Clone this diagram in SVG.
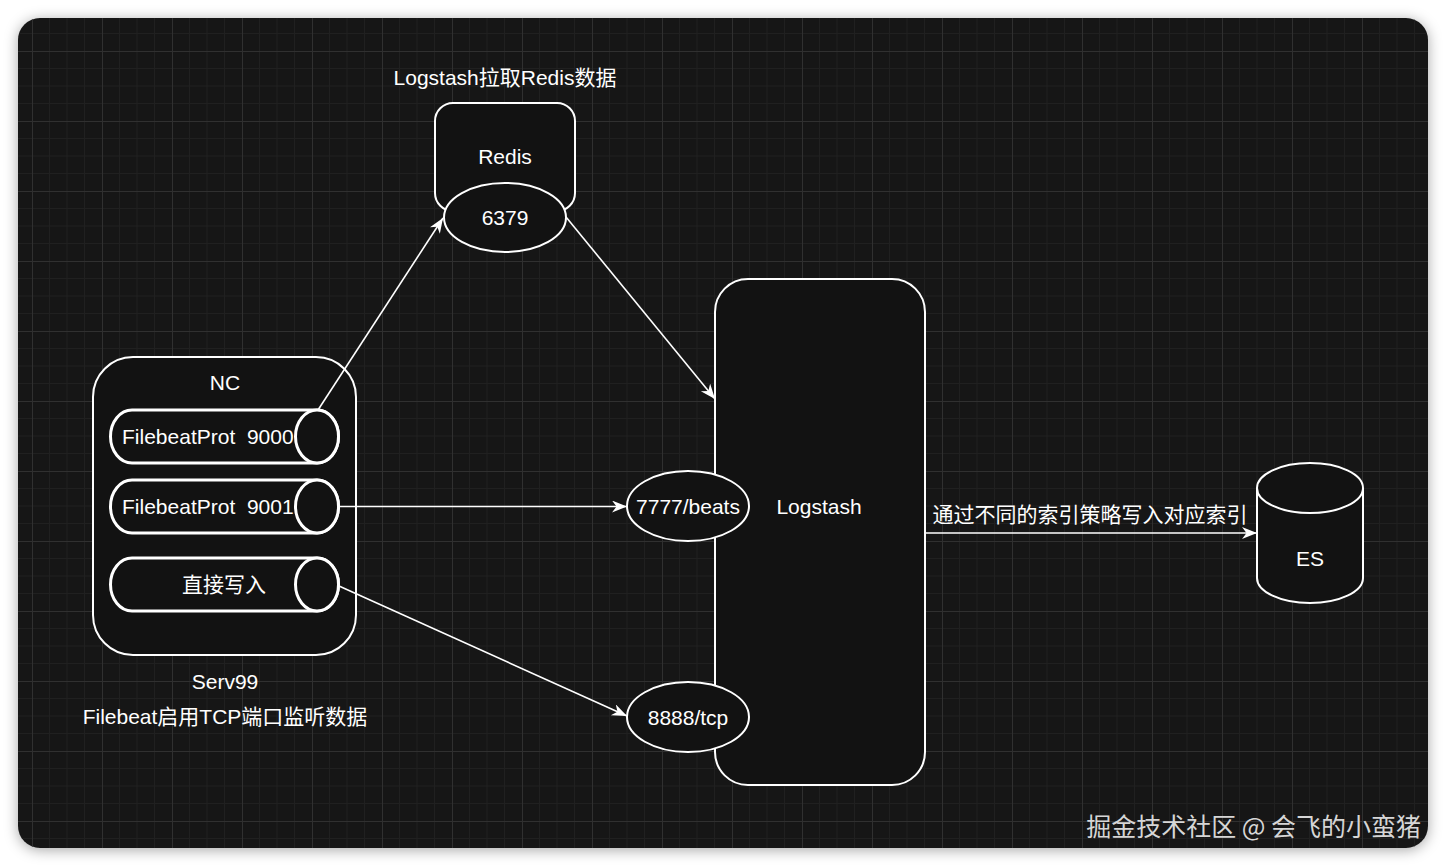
<svg xmlns="http://www.w3.org/2000/svg" width="1446" height="866" viewBox="0 0 1446 866">
<defs>
  <filter id="sh" x="-5%" y="-5%" width="110%" height="110%">
    <feDropShadow dx="0" dy="2" stdDeviation="7" flood-color="#000" flood-opacity="0.35"/>
  </filter>
  <pattern id="grid" x="32" y="51" width="70" height="70" patternUnits="userSpaceOnUse">
    <path d="M17.5,0 V70 M35,0 V70 M52.5,0 V70 M0,17.5 H70 M0,35 H70 M0,52.5 H70" stroke="#202020" stroke-width="1" fill="none"/>
    <path d="M0.5,0 V70 M0,0.5 H70" stroke="#303030" stroke-width="1" fill="none"/>
  </pattern>
  <marker id="arr" markerUnits="userSpaceOnUse" markerWidth="18" markerHeight="14" refX="15" refY="6" orient="auto">
    <path d="M0,0 L15,6 L0,12 L4.5,6 Z" fill="#ffffff"/>
  </marker>
  <clipPath id="frameClip"><rect x="18" y="18" width="1410" height="830" rx="22"/></clipPath>
</defs>
<style>
  .n { fill: #121212; stroke: #ffffff; stroke-width: 2; }
  .cyl { fill: #121212; stroke: #ffffff; stroke-width: 3; }
  .t { font-family: "Liberation Sans", Arial, "Noto Sans CJK SC", sans-serif; fill: #ffffff; font-size: 21px; }
  .c { text-anchor: middle; }
  .e { fill: none; stroke: #ffffff; stroke-width: 1.6; marker-end: url(#arr); }
</style>
<rect width="1446" height="866" fill="#ffffff"/>
<rect x="18" y="18" width="1410" height="830" rx="22" fill="#151515" filter="url(#sh)"/>
<rect x="18" y="18" width="1410" height="830" fill="url(#grid)" clip-path="url(#frameClip)"/>

<g id="nc">
  <rect class="n" x="93" y="357" width="263" height="298" rx="40"/>
  <text class="t c" x="225" y="390">NC</text>
</g>
<g id="cyl9000">
  <path class="cyl" d="M132,410 L317,410 A21.5,26.5 0 0 1 317,463 L132,463 A21.5,26.5 0 0 1 132,410 Z"/>
  <ellipse class="cyl" cx="317" cy="436.5" rx="21.5" ry="26.5"/>
  <text class="t" x="122" y="444" xml:space="preserve">FilebeatProt  9000</text>
</g>
<g id="cyl9001">
  <path class="cyl" d="M132,480 L317,480 A21.5,26.5 0 0 1 317,533 L132,533 A21.5,26.5 0 0 1 132,480 Z"/>
  <ellipse class="cyl" cx="317" cy="506.5" rx="21.5" ry="26.5"/>
  <text class="t" x="122" y="514" xml:space="preserve">FilebeatProt  9001</text>
</g>
<g id="cylDirect">
  <path class="cyl" d="M132,558 L317,558 A21.5,26.5 0 0 1 317,611 L132,611 A21.5,26.5 0 0 1 132,558 Z"/>
  <ellipse class="cyl" cx="317" cy="584.5" rx="21.5" ry="26.5"/>
  <text class="t c" x="224" y="592">直接写入</text>
</g>
<g id="serv99">
  <text class="t c" x="225" y="689">Serv99</text>
  <text class="t c" x="225" y="724">Filebeat启用TCP端口监听数据</text>
</g>

<g id="redis">
  <text class="t c" x="505" y="85">Logstash拉取Redis数据</text>
  <rect class="n" x="435" y="103" width="140" height="108" rx="18"/>
  <text class="t c" x="505" y="164">Redis</text>
</g>
<g id="port6379">
  <ellipse class="n" cx="505" cy="217.5" rx="61" ry="34.5"/>
  <text class="t c" x="505" y="225">6379</text>
</g>

<g id="logstash">
  <rect class="n" x="715" y="279" width="210" height="506" rx="33"/>
  <text class="t c" x="819" y="514">Logstash</text>
</g>
<g id="port7777">
  <ellipse class="n" cx="688" cy="506" rx="61" ry="35"/>
  <text class="t c" x="688" y="514">7777/beats</text>
</g>
<g id="port8888">
  <ellipse class="n" cx="688" cy="717" rx="61" ry="35"/>
  <text class="t c" x="688" y="725">8888/tcp</text>
</g>

<g id="es">
  <path class="n" d="M1257,488 A53,25 0 0 1 1363,488 L1363,578 A53,25 0 0 1 1257,578 Z"/>
  <path class="n" d="M1257,488 A53,25 0 0 0 1363,488" style="fill:none"/>
  <text class="t c" x="1310" y="566">ES</text>
</g>

<g id="connectors">
  <line class="e" x1="318" y1="410" x2="443" y2="218"/>
  <line class="e" x1="566" y1="217" x2="715" y2="399"/>
  <line class="e" x1="339" y1="506.5" x2="627" y2="506.5"/>
  <line class="e" x1="339" y1="586" x2="627" y2="716"/>
  <line class="e" x1="925" y1="533" x2="1257" y2="533"/>
  <text class="t c" x="1090" y="522">通过不同的索引策略写入对应索引</text>
</g>

<text x="1421" y="836" text-anchor="end" font-family="'Noto Sans CJK SC', 'Liberation Sans', sans-serif" font-size="25" fill="#d6d6d6">掘金技术社区 @ 会飞的小蛮猪</text>
</svg>
